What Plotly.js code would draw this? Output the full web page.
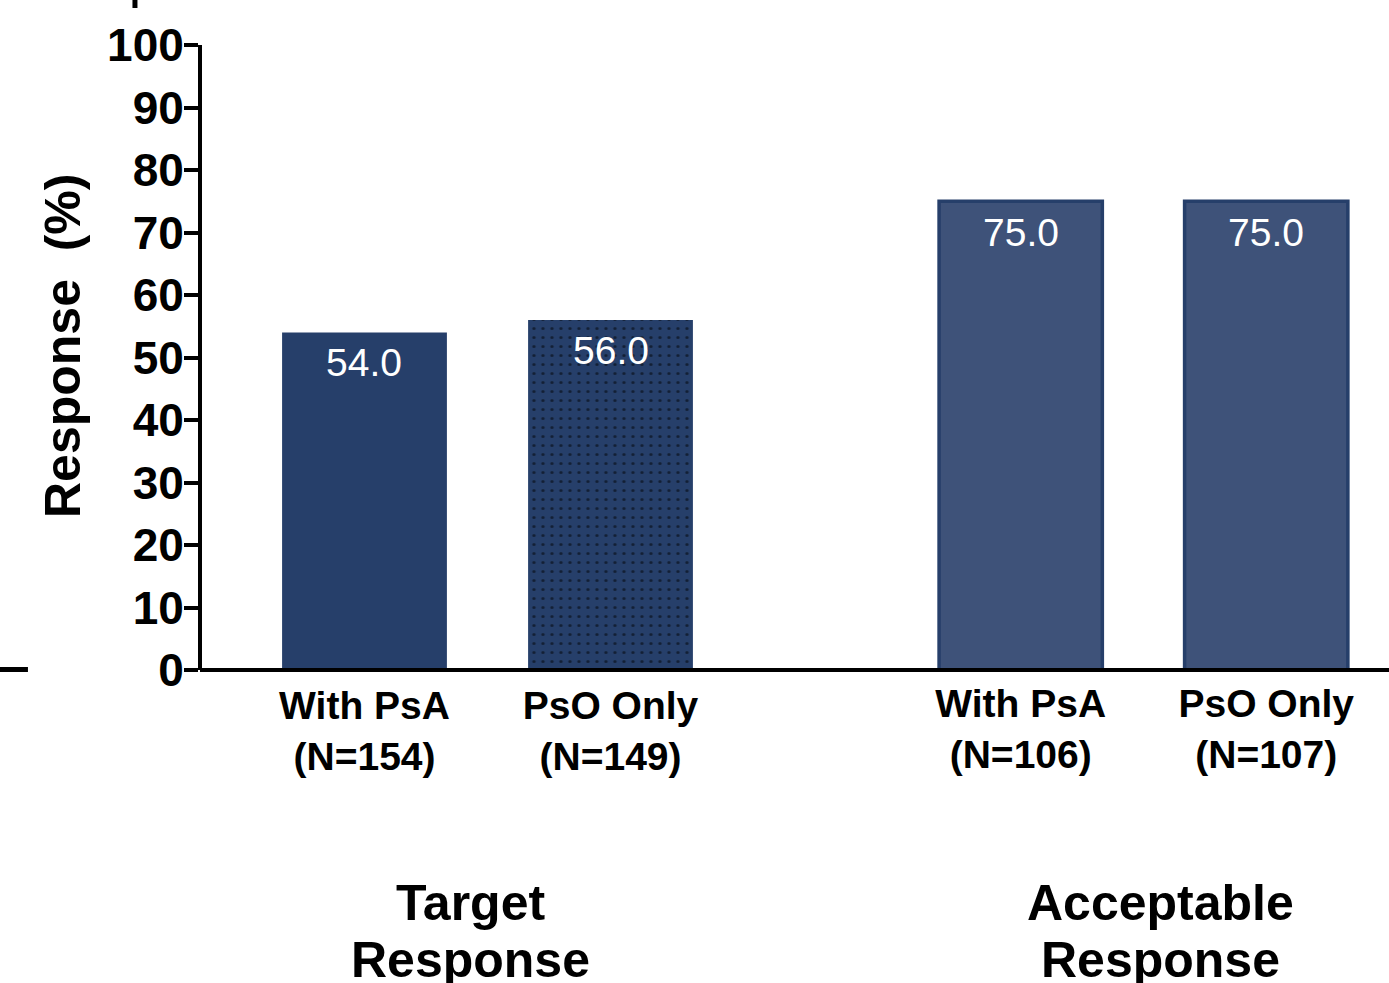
<!DOCTYPE html>
<html>
<head>
<meta charset="utf-8">
<script src="https://cdn.plot.ly/plotly-3.0.1.min.js"></script>
<style>html,body{margin:0;padding:0;background:#fff;}#chart{width:1389px;height:983px;}</style>
</head>
<body>
<div id="chart"></div>
<script>
// ---- data ----
const subgroups = ["With PsA", "PsO Only"];
const targetN = [154, 149];
const acceptN = [106, 107];
const targetValues = [54.0, 56.0];
const acceptValues = [75.0, 75.0];
const groupLabels = [["Target", "Response"], ["Acceptable", "Response"]];
const yTitle = "Response  (%)";

const FONT = "Arial, 'Liberation Sans', sans-serif";
const dark = "#263f6a";
const light = "#3e5279";

const targetCats = subgroups.map((s, i) => s + "<br>(N=" + targetN[i] + ")");
const acceptCats = subgroups.map((s, i) => s + "<br>(N=" + acceptN[i] + ")");

const traces = [
  {
    type: "bar", x: targetCats, y: targetValues, xaxis: "x", yaxis: "y",
    width: 0.67,
    marker: {
      color: dark,
      line: {width: 0},
      pattern: {shape: ["", "."], fgcolor: "#000", bgcolor: dark, size: 9, solidity: 0.1, fillmode: "overlay"}
    },
    hoverinfo: "none"
  },
  {
    type: "bar", x: acceptCats, y: acceptValues, xaxis: "x2", yaxis: "y",
    width: 0.665,
    marker: {color: light, line: {width: 3.5, color: dark}},
    hoverinfo: "none"
  }
];

const annotations = [];
targetValues.forEach((v, i) => annotations.push({
  xref: "x", yref: "y", x: targetCats[i], y: v, text: v.toFixed(1),
  showarrow: false, yanchor: "middle", yshift: -30,
  font: {family: FONT, size: 39, color: "#fff"}
}));
acceptValues.forEach((v, i) => annotations.push({
  xref: "x2", yref: "y", x: acceptCats[i], y: v, text: v.toFixed(1),
  showarrow: false, yanchor: "middle", yshift: -31,
  font: {family: FONT, size: 39, color: "#fff"}
}));
const groupX = [0.2271, 0.8082];
const lineY = [-0.3728, -0.464];
groupLabels.forEach((lines, g) => lines.forEach((t, k) => annotations.push({
  xref: "paper", yref: "paper", x: groupX[g], y: lineY[k], text: "<b>" + t + "</b>",
  showarrow: false, xanchor: "center", yanchor: "middle",
  font: {family: FONT, size: 50, color: "#000"}
})));
// y-axis title
annotations.push({
  xref: "paper", yref: "paper", x: -0.1152, y: 0.5184, text: "<b>" + yTitle + "</b>",
  textangle: -90, showarrow: false, xanchor: "center", yanchor: "middle",
  font: {family: FONT, size: 50, color: "#000"}
});

const tickFont = {family: FONT, size: 39, color: "#000", weight: "bold"};

const layout = {
  width: 1389, height: 983,
  margin: {l: 200, r: 0, t: 45, b: 313},
  paper_bgcolor: "#fff", plot_bgcolor: "#fff",
  showlegend: false,
  xaxis: {
    domain: [0.0349, 0.4487], anchor: "y", type: "category",
    showline: false, ticks: "", showgrid: false, zeroline: false,
    tickfont: tickFont, ticklabelstandoff: 9, fixedrange: true
  },
  xaxis2: {
    domain: [0.587, 1.0], anchor: "y", type: "category",
    showline: false, ticks: "", showgrid: false, zeroline: false,
    tickfont: tickFont, ticklabelstandoff: 7, fixedrange: true
  },
  yaxis: {
    range: [0, 100], dtick: 10, anchor: "free", position: 0,
    showline: true, linewidth: 4, linecolor: "#000",
    ticks: "outside", ticklen: 14, tickwidth: 4, tickcolor: "#000",
    showgrid: false, zeroline: false,
    tickfont: {family: FONT, size: 46, color: "#000", weight: "bold"},
    ticklabelstandoff: -9,
    fixedrange: true
  },
  shapes: [
    {type: "line", xref: "paper", yref: "paper", x0: 0, x1: 1, y0: 0, y1: 0, line: {color: "#000", width: 4}},
    {type: "line", xref: "paper", yref: "paper", x0: -0.0547, x1: -0.0547, y0: 1.072, y1: 1.0592, line: {color: "#000", width: 5}},
    {type: "line", xref: "paper", yref: "paper", x0: -0.1682, x1: -0.1447, y0: 0.0008, y1: 0.0008, line: {color: "#000", width: 5}}
  ],
  annotations: annotations
};

Plotly.newPlot("chart", traces, layout, {displayModeBar: false, staticPlot: true});
</script>
</body>
</html>
